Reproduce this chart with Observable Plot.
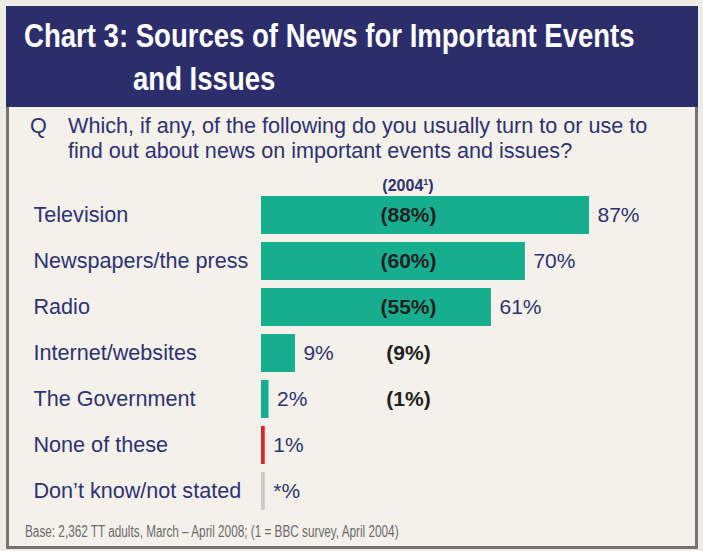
<!DOCTYPE html>
<html><head><meta charset="utf-8">
<script src="https://cdn.jsdelivr.net/npm/d3@7"></script>
<script src="https://cdn.jsdelivr.net/npm/@observablehq/plot@0.6"></script>
<style>
body{margin:0;background:#efece5;font-family:"Liberation Sans",Arial,Helvetica,sans-serif;}
#page{position:relative;width:703px;height:551px;overflow:hidden;}
#card{position:absolute;left:6px;top:6px;width:686px;height:540px;background:#f4f1ea;border:3px solid #747474;border-top:none;}
#header{position:absolute;left:6px;top:6px;width:692px;height:101px;background:#2c2e6c;}
.t{position:absolute;white-space:nowrap;}
.title{color:#fff;font-weight:bold;font-size:34px;line-height:34px;transform:scaleX(0.81);transform-origin:0 0;}
.q{color:#2e3174;font-size:21.6px;line-height:25px;}
.foot{color:#6a6a6a;font-size:16px;line-height:16px;transform:scaleX(0.735);transform-origin:0 0;}
.y04{color:#2e3174;font-weight:bold;font-size:16px;line-height:16px;transform:translateX(-50%);}
.y04 .s{font-size:9px;position:relative;top:-6px;}
#plot{position:absolute;left:6px;top:165px;}
</style></head>
<body>
<div id="page">
  <div id="card"></div>
  <div id="header"></div>
  <div class="t title" style="left:24px;top:18px;">Chart 3: Sources of News for Important Events</div>
  <div class="t title" style="left:133px;top:61px;">and Issues</div>
  <div class="t q" style="left:30px;top:113px;">Q</div>
  <div class="t q" style="left:68px;top:113px;">Which, if any, of the following do you usually turn to or use to<br>find out about news on important events and issues?</div>
  <div class="t y04" style="left:408px;top:178px;">(2004<span class="s">1</span>)</div>
  <div id="plot"></div>
  <div class="t foot" style="left:25px;top:524px;">Base: 2,362 TT adults, March – April 2008; (1 = BBC survey, April 2004)</div>
</div>
<script>
const categories = ["Television","Newspapers/the press","Radio","Internet/websites","The Government","None of these","Don’t know/not stated"];
const values2008 = [87,70,61,9,2,1,1];
const valueLabels = ["87%","70%","61%","9%","2%","1%","*%"];
const values2004 = [88,60,55,9,1,null,null];
const groups = ["source","source","source","source","source","none","dk"];

const data = categories.map((c,i)=>({cat:c, v:values2008[i], label:valueLabels[i], old:values2004[i], grp:groups[i]}));

const chart = Plot.plot({
  width:691, height:350,
  marginLeft:255, marginRight:59, marginTop:27, marginBottom:1,
  x:{domain:[0,100], axis:null},
  y:{domain:categories, axis:null, paddingInner:0.174, paddingOuter:0.087},
  color:{domain:["source","none","dk"], range:["#17ae90","#e4202b","#c9c9c9"]},
  style:{fontFamily:"Liberation Sans, Arial, sans-serif", background:"transparent", overflow:"visible"},
  marks:[
    Plot.barX(data,{x:"v", y:"cat", fill:"grp"}),
    Plot.text(data,{y:"cat", frameAnchor:"left", dx:-228, textAnchor:"start", text:"cat", fill:"#2e3174", fontSize:21.6}),
    Plot.text(data,{x:"v", y:"cat", text:"label", dx:8, textAnchor:"start", fill:"#2e3174", fontSize:21}),
    Plot.text(data.filter(d=>d.old!=null),{y:"cat", frameAnchor:"left", dx:147, textAnchor:"middle", text:d=>`(${d.old}%)`, fontWeight:"bold", fill:"#231f20", fontSize:21})
  ]
});
document.getElementById("plot").appendChild(chart);
</script>
</body></html>
